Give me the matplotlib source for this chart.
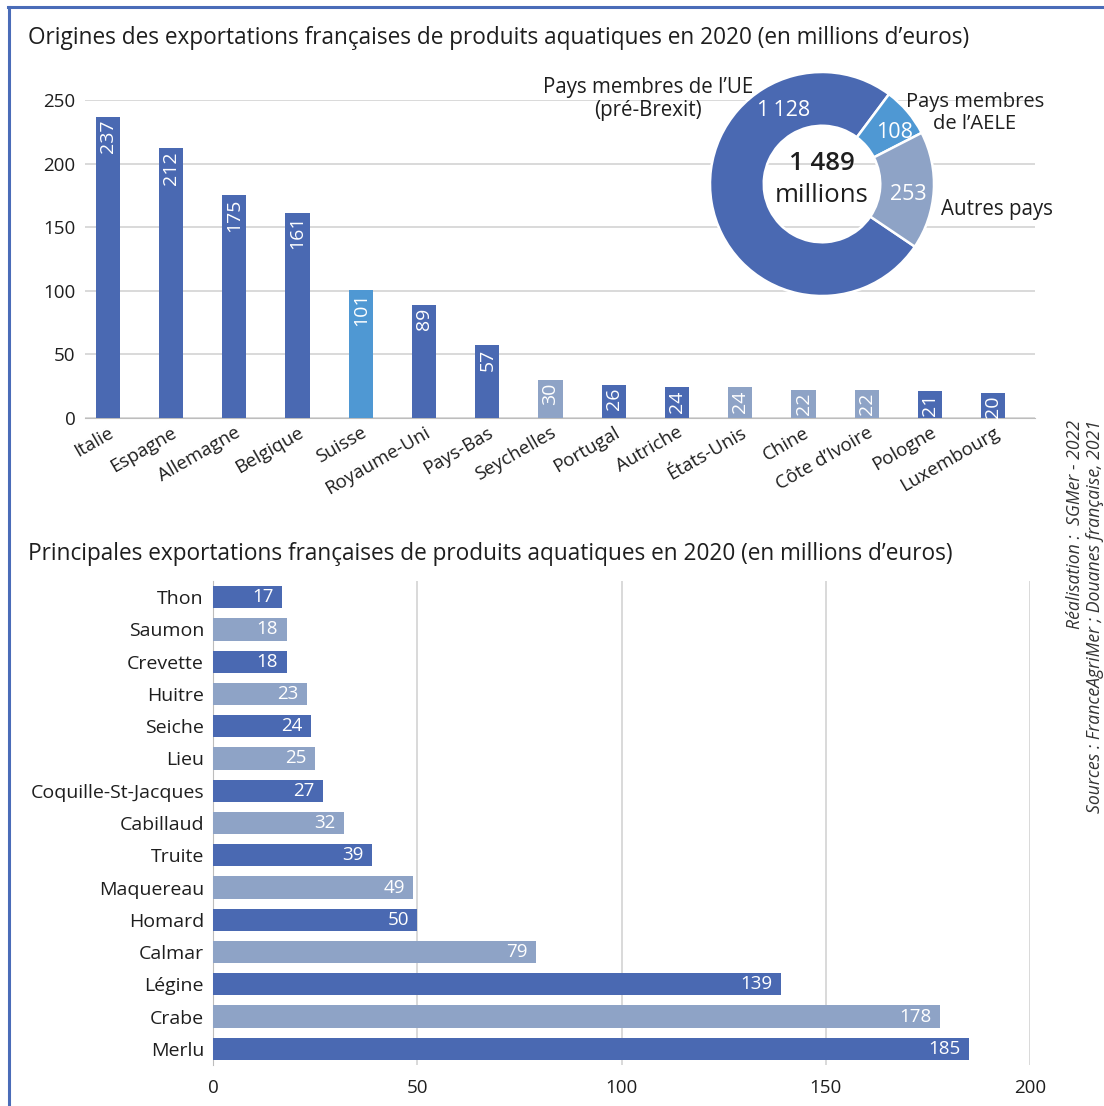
import matplotlib
matplotlib.use("Agg")
import matplotlib.pyplot as plt
from matplotlib.lines import Line2D

plt.rcParams['font.family'] = ['Open Sans', 'DejaVu Sans']

# --- Data -------------------------------------------------------------
pays = ["Italie", "Espagne", "Allemagne", "Belgique", "Suisse", "Royaume-Uni",
        "Pays-Bas", "Seychelles", "Portugal", "Autriche", "États-Unis", "Chine",
        "Côte d’Ivoire", "Pologne", "Luxembourg"]
pays_valeurs = [237, 212, 175, 161, 101, 89, 57, 30, 26, 24, 24, 22, 22, 21, 20]
pays_groupe = ["UE", "UE", "UE", "UE", "AELE", "UE", "UE", "Autre", "UE", "UE",
               "Autre", "Autre", "Autre", "UE", "UE"]

zones = ["Pays membres de l’UE\n(pré-Brexit)", "Pays membres\nde l’AELE", "Autres pays"]
zones_valeurs = [1128, 108, 253]
total_label = "1 489"

produits = ["Thon", "Saumon", "Crevette", "Huitre", "Seiche", "Lieu",
            "Coquille-St-Jacques", "Cabillaud", "Truite", "Maquereau", "Homard",
            "Calmar", "Légine", "Crabe", "Merlu"]
produits_valeurs = [17, 18, 18, 23, 24, 25, 27, 32, 39, 49, 50, 79, 139, 178, 185]

# --- Style ------------------------------------------------------------
DARK = "#4a69b2"
LIGHT = "#4f98d3"
GREY = "#8ea3c6"
GRID = "#cfcfcf"
TEXT = "#1e1e1e"
group_color = {"UE": DARK, "AELE": LIGHT, "Autre": GREY}

W, H = 1104, 1106
fig = plt.figure(figsize=(W / 100, H / 100), dpi=100)


def box(x0, y0, x1, y1):
    """Pixel box (top-left origin) -> figure fraction rect."""
    return [x0 / W, 1 - y1 / H, (x1 - x0) / W, (y1 - y0) / H]


def fmt(v):
    return f"{v:,}".replace(",", "\u202f")

# Frame lines (top and left)
fig.add_artist(Line2D([8 / W, 1], [1 - 7 / H, 1 - 7 / H], color="#4a6cb8", lw=2.2,
                      transform=fig.transFigure))
fig.add_artist(Line2D([9 / W, 9 / W], [1 - 7 / H, 0], color="#4a6cb8", lw=2.2,
                      transform=fig.transFigure))

# --- Top: countries ------------------------------------------------------
ax1 = fig.add_axes(box(85, 100, 1035, 418))
xs = range(len(pays))
ax1.bar(xs, pays_valeurs, width=0.38, color=[group_color[g] for g in pays_groupe],
        zorder=3)
ax1.set_xlim(-0.36, len(pays) - 0.34)
ax1.set_ylim(0, 250)
ax1.set_yticks([0, 50, 100, 150, 200, 250])
ax1.yaxis.grid(True, color=GRID, lw=1.1, zorder=0)
ax1.tick_params(axis="y", length=0, pad=7, labelsize=13.5, labelcolor=TEXT)
ax1.tick_params(axis="x", length=0, pad=4)
for s in ["top", "right", "left"]:
    ax1.spines[s].set_visible(False)
ax1.spines["bottom"].set_color("#bdbdbd")
ax1.set_xticks(list(xs))
ax1.set_xticklabels(pays, rotation=30, ha="right", rotation_mode="anchor",
                    fontsize=13.5, color=TEXT)
for x, v in zip(xs, pays_valeurs):
    ax1.annotate(str(v), (x, v), xytext=(0, -2), textcoords="offset points",
                 rotation=90, ha="center", va="top", color="white", fontsize=14,
                 zorder=4)

fig.text(28 / W, 1 - 38 / H, "Origines des exportations françaises de produits aquatiques en 2020 (en millions d’euros)",
         fontsize=16.3, color=TEXT, va="center", ha="left")

# --- Donut -------------------------------------------------------------
cx, cy, r = 822, 184, 112
axp = fig.add_axes(box(cx - r, cy - r, cx + r, cy + r))
axp.pie(zones_valeurs, colors=[DARK, LIGHT, GREY], startangle=326, counterclock=False,
        radius=1.0, wedgeprops=dict(width=0.48, edgecolor="white", linewidth=1.8))
axp.set_xlim(-1, 1)
axp.set_ylim(-1, 1)
axp.set_aspect("equal")
axp.axis("off")

fig.text(cx / W, 1 - 163 / H, total_label, ha="center", va="center", fontsize=18.5,
         fontweight="semibold", color=TEXT)
fig.text(cx / W, 1 - 195 / H, "millions", ha="center", va="center", fontsize=18.5,
         color=TEXT)

# value labels on the ring
fig.text(784 / W, 1 - 110 / H, fmt(zones_valeurs[0]), ha="center", va="center",
         fontsize=15.5, color="white")
fig.text(895 / W, 1 - 133 / H, fmt(zones_valeurs[1]), ha="center", va="center",
         fontsize=15.5, color="white")
fig.text(908 / W, 1 - 194 / H, fmt(zones_valeurs[2]), ha="center", va="center",
         fontsize=15.5, color="white")

# category labels around the ring
fig.text(648 / W, 1 - 99 / H, zones[0], ha="center", va="center", fontsize=14.8,
         color=TEXT, multialignment="center", linespacing=1.1)
fig.text(975 / W, 1 - 113 / H, zones[1], ha="center", va="center", fontsize=14.5,
         color=TEXT, multialignment="center", linespacing=1.1)
fig.text(941 / W, 1 - 210 / H, zones[2], ha="left", va="center", fontsize=14.8,
         color=TEXT)

# --- Bottom: products ----------------------------------------------------
ax2 = fig.add_axes(box(213, 581, 1030, 1065))
ys = range(len(produits))
ax2.barh(ys, produits_valeurs, height=0.69,
         color=[DARK if i % 2 == 0 else GREY for i in ys], zorder=3)
ax2.set_ylim(len(produits) - 0.5, -0.5)
ax2.set_xlim(0, 200)
ax2.set_xticks([0, 50, 100, 150, 200])
ax2.xaxis.grid(True, color=GRID, lw=1.1, zorder=0)
ax2.set_yticks(list(ys))
ax2.set_yticklabels(produits, fontsize=14, color=TEXT)
ax2.tick_params(axis="y", length=0, pad=6.5)
ax2.tick_params(axis="x", length=0, pad=10, labelsize=13.5, labelcolor=TEXT)
for s in ["top", "right", "bottom"]:
    ax2.spines[s].set_visible(False)
ax2.spines["left"].set_color("#bdbdbd")
for y, v in zip(ys, produits_valeurs):
    ax2.annotate(str(v), (v, y), xytext=(-6, 0), textcoords="offset points",
                 ha="right", va="center", color="white", fontsize=13.5, zorder=4)

fig.text(28 / W, 1 - 554 / H, "Principales exportations françaises de produits aquatiques en 2020 (en millions d’euros)",
         fontsize=16.3, color=TEXT, va="center", ha="left")

# --- Source note -----------------------------------------------------------
fig.text(1075 / W, 1 - 420 / H, "Réalisation :  SGMer - 2022", rotation=90,
         ha="center", va="top", fontsize=12.7, style="italic", color="#333333")
fig.text(1095 / W, 1 - 420 / H, "Sources : FranceAgriMer ; Douanes française, 2021",
         rotation=90, ha="center", va="top", fontsize=12.7, style="italic", color="#333333")

fig.savefig("out.png", dpi=100)
